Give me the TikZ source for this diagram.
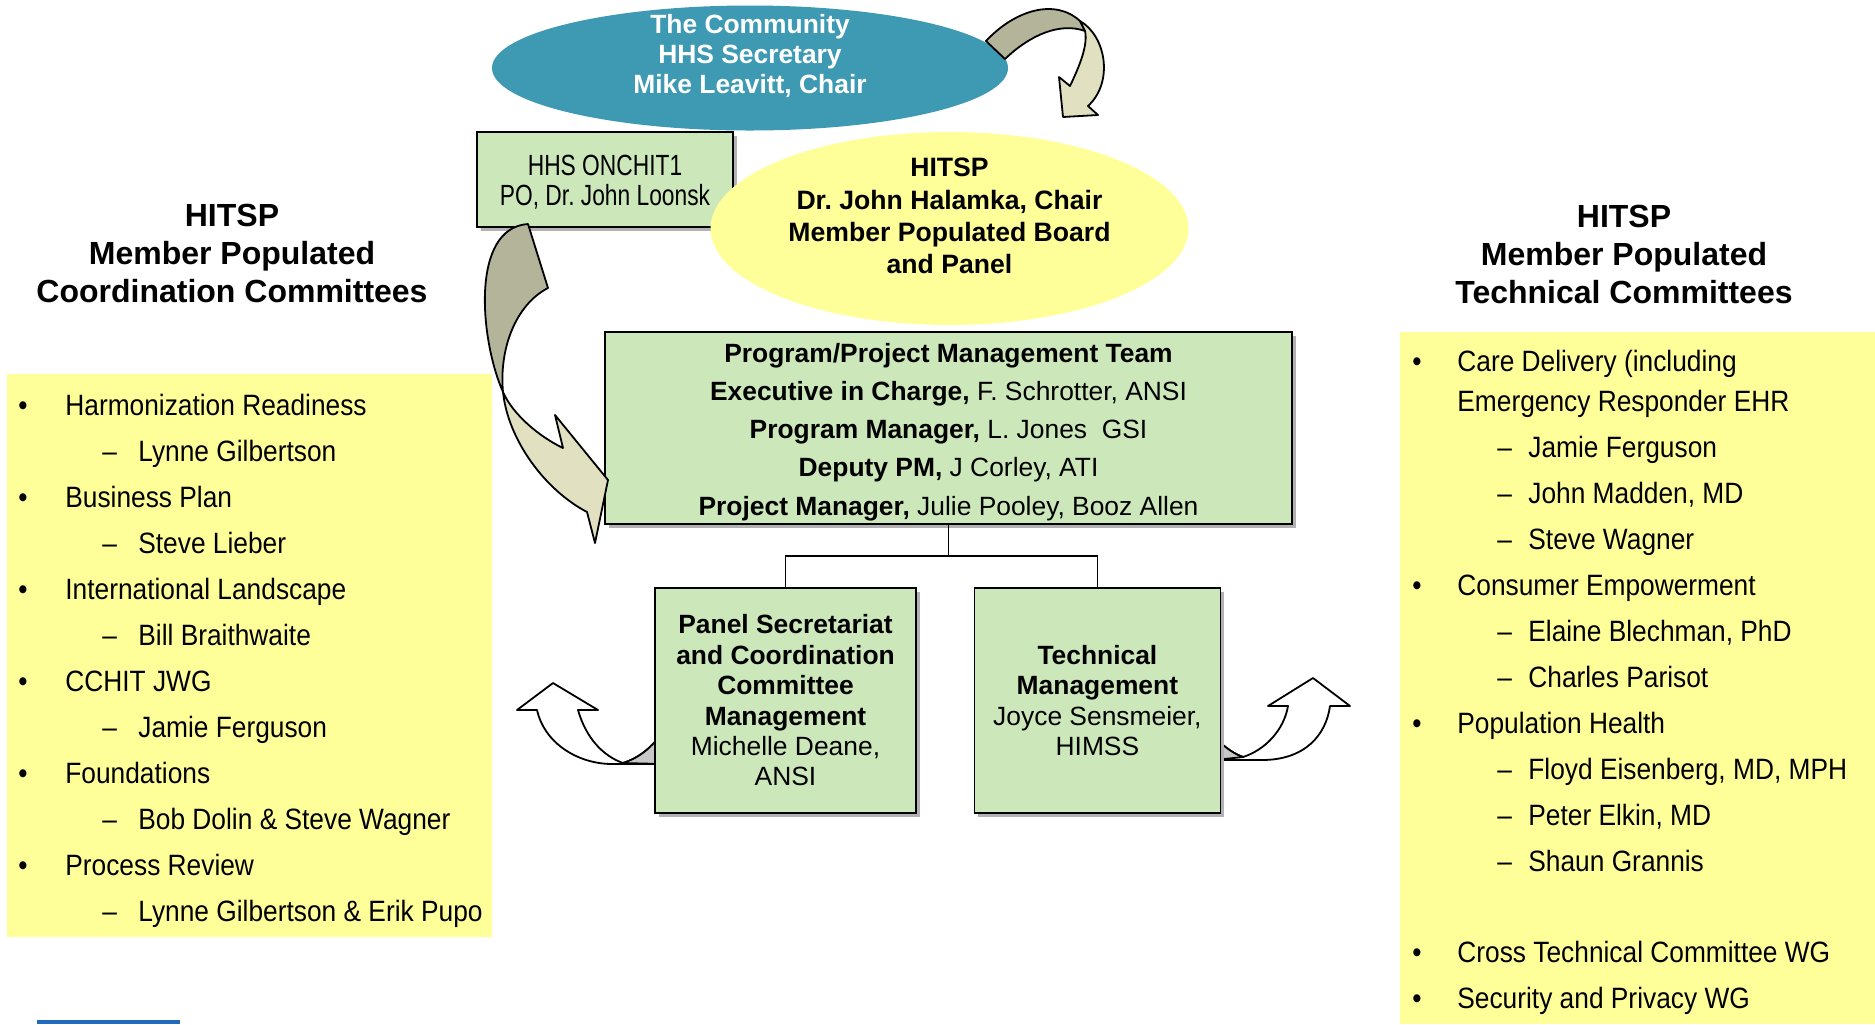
\documentclass[tikz,border=0pt]{standalone}
\usepackage{fontspec}
\setmainfont{Liberation Sans}
\newfontfamily\listfont[FakeStretch=0.895]{Liberation Sans}
\newfontfamily\hhsfont[FakeStretch=0.78]{Liberation Sans}
\usetikzlibrary{positioning}
\usetikzlibrary{shapes.geometric}
\usetikzlibrary{shadows}
\definecolor{commteal}{RGB}{62,154,178}
\definecolor{lemon}{RGB}{255,255,153}
\definecolor{mint}{RGB}{204,232,186}
\definecolor{olivedark}{RGB}{180,180,155}
\definecolor{cream}{RGB}{225,224,193}
\definecolor{backgray}{RGB}{200,200,200}
\definecolor{barblue}{RGB}{35,105,190}
\frenchspacing

\begin{document}
\begin{tikzpicture}[
    x=0.5pt, y=-0.5pt,
    boxnode/.style={draw, fill=mint, line width=0.9pt, align=center,
      general shadow={fill=black!30, shadow xshift=2pt, shadow yshift=-2pt}},
    boxtext/.style={align=center, inner sep=0pt},
    hdr/.style={align=center, font=\fontsize{16}{19}\selectfont\bfseries},
    item/.style={anchor=base west, inner sep=0pt, font=\listfont\fontsize{14.7}{17}\selectfont},
    flap/.style={draw, line width=0.9pt, line join=round}
    ]

    \useasboundingbox (0,0) rectangle (1875,1024);
    \fill[white] (0,0) rectangle (1875,1024);

    % committee panels
    \fill[lemon] (7,374) rectangle (492,937);
    \fill[lemon] (1400,332) rectangle (1875,1024);
    \fill[barblue] (37,1020) rectangle (180,1024);

    \node[hdr] (lhead) at (232,253) {HITSP\\Member Populated\\Coordination Committees};
    \node[hdr] (rhead) at (1624,254) {HITSP\\Member Populated\\Technical Committees};

    \foreach \mx/\gap/\yy/\mk/\txt [count=\i] in {
        18/23.5/415/•/Harmonization Readiness,
        102/18/461/–/Lynne Gilbertson,
        18/23.5/507/•/Business Plan,
        102/18/553/–/Steve Lieber,
        18/23.5/599/•/International Landscape,
        102/18/645/–/Bill Braithwaite,
        18/23.5/691/•/CCHIT JWG,
        102/18/737/–/Jamie Ferguson,
        18/23.5/783/•/Foundations,
        102/18/829/–/Bob Dolin \& Steve Wagner,
        18/23.5/875/•/Process Review,
        102/18/921/–/Lynne Gilbertson \& Erik Pupo}
      \node[item] (cc\i) at (\mx,\yy) {\makebox[\gap pt][l]{\mk}\txt};

    \foreach \mx/\gap/\yy/\mk/\txt [count=\i] in {
        1412/22.5/371/•/Care Delivery (including,
        1457/0/411/{}/Emergency Responder EHR,
        1497/15.5/457/–/Jamie Ferguson,
        1497/15.5/503/–/{John Madden, MD},
        1497/15.5/549/–/Steve Wagner,
        1412/22.5/595/•/Consumer Empowerment,
        1497/15.5/641/–/{Elaine Blechman, PhD},
        1497/15.5/687/–/Charles Parisot,
        1412/22.5/733/•/Population Health,
        1497/15.5/779/–/{Floyd Eisenberg, MD, MPH},
        1497/15.5/825/–/{Peter Elkin, MD},
        1497/15.5/871/–/Shaun Grannis,
        1412/22.5/962/•/Cross Technical Committee WG,
        1412/22.5/1008/•/Security and Privacy WG}
      \node[item] (tc\i) at (\mx,\yy) {\makebox[\gap pt][l]{\mk}\txt};

    % small curled arrows behind the lower boxes
    \filldraw[flap, fill=white] (537,710) -- (517,710) -- (553,683) -- (598,710) -- (578,710)
      .. controls (586,738) and (603,756) .. (623,763)
      .. controls (636,759) and (650,750) .. (662,733) -- (662,764) -- (612,764)
      .. controls (580,764) and (545,745) .. (537,710) -- cycle;
    \filldraw[flap, fill=backgray] (623,763) .. controls (636,759) and (650,750) .. (662,733)
      -- (662,764) -- cycle;
    \filldraw[flap, fill=white] (1288,706) -- (1268,706) -- (1313,678) -- (1350,706) -- (1330,706)
      .. controls (1326,735) and (1305,760) .. (1262,760) -- (1215,760) -- (1215,738)
      .. controls (1228,750) and (1235,754) .. (1243,757)
      .. controls (1265,750) and (1284,730) .. (1288,706) -- cycle;
    \filldraw[flap, fill=backgray] (1243,757) .. controls (1235,754) and (1228,750) .. (1215,738)
      -- (1215,760) -- cycle;

    \node[boxnode, minimum width=343.5pt, minimum height=96pt] (pmt) at (948.5,428) {};
    \node[boxtext, font=\fontsize{13.2}{19.1}\selectfont] (pmttxt) at (948.5,432)
      {\textbf{Program/Project Management Team}\\
       \textbf{Executive in Charge,} F. Schrotter, ANSI\\
       \textbf{Program Manager,} L. Jones\ \ GSI\\
       \textbf{Deputy PM,} J Corley, ATI\\
       \textbf{Project Manager,} Julie Pooley, Booz Allen};
    \node[boxnode, minimum width=130.5pt, minimum height=112.5pt,
      font=\fontsize{13.2}{15.2}\selectfont] (panel) at (785.5,700.5)
      {\textbf{Panel Secretariat}\\\textbf{and Coordination}\\\textbf{Committee}\\
       \textbf{Management}\\Michelle Deane,\\ANSI};
    \node[boxnode, minimum width=123pt, minimum height=112.5pt,
      font=\fontsize{13.2}{15.2}\selectfont, right=28.3pt of panel] (tech)
      {\textbf{Technical}\\\textbf{Management}\\Joyce Sensmeier,\\HIMSS};

    \coordinate (split) at (948.5,556);
    \draw[line width=0.8pt] (pmt.south) -- (split) -| (panel.north);
    \draw[line width=0.8pt] (split) -| (tech.north);

    \node[boxnode, minimum width=128pt, minimum height=47.5pt] (onchit) at (605,179.5) {};
    \node[boxtext, font=\hhsfont\fontsize{14.6}{15}\selectfont] (onchittxt) at (605,182.5)
      {HHS ONCHIT1\\PO, Dr. John Loonsk};

    \node[ellipse, fill=lemon, minimum width=239pt, minimum height=96.5pt] (hitsp) at (949.5,228.5) {};
    \node[align=center, font=\fontsize{13.3}{16.1}\selectfont\bfseries] (hitsptxt) at (949.5,216)
      {HITSP\\Dr. John Halamka, Chair\\Member Populated Board\\and Panel};

    % curved arrow from ONCHIT down to the team
    \filldraw[flap, fill=olivedark] (528,224) .. controls (470,228) and (480,340) .. (503,392)
      .. controls (499,350) and (515,305) .. (548,288) -- cycle;
    \filldraw[flap, fill=cream] (503,392) .. controls (513,415) and (540,437) .. (563,448)
      -- (555,415) -- (608,480) -- (595,543) -- (587,512)
      .. controls (545,490) and (508,440) .. (503,392) -- cycle;

    \node[ellipse, fill=commteal, minimum width=258pt, minimum height=62.5pt] (comm) at (750,68) {};
    \node[align=center, text=white, font=\fontsize{13.2}{15.2}\selectfont\bfseries] (commtxt) at (750,56)
      {The Community\\HHS Secretary\\Mike Leavitt, Chair};

    % curved arrow from the community to HITSP
    \filldraw[flap, fill=olivedark] (986,41) .. controls (1015,10) and (1055,-2) .. (1080,21)
      -- (1085,31) .. controls (1060,22) and (1030,35) .. (1005,59) -- cycle;
    \filldraw[flap, fill=cream] (1080,21) .. controls (1106,36) and (1114,82) .. (1088,106)
      -- (1098,115) -- (1063,117) -- (1059,77) -- (1070,86)
      .. controls (1080,65) and (1088,45) .. (1085,31) -- cycle;

  \end{tikzpicture}
\end{document}
